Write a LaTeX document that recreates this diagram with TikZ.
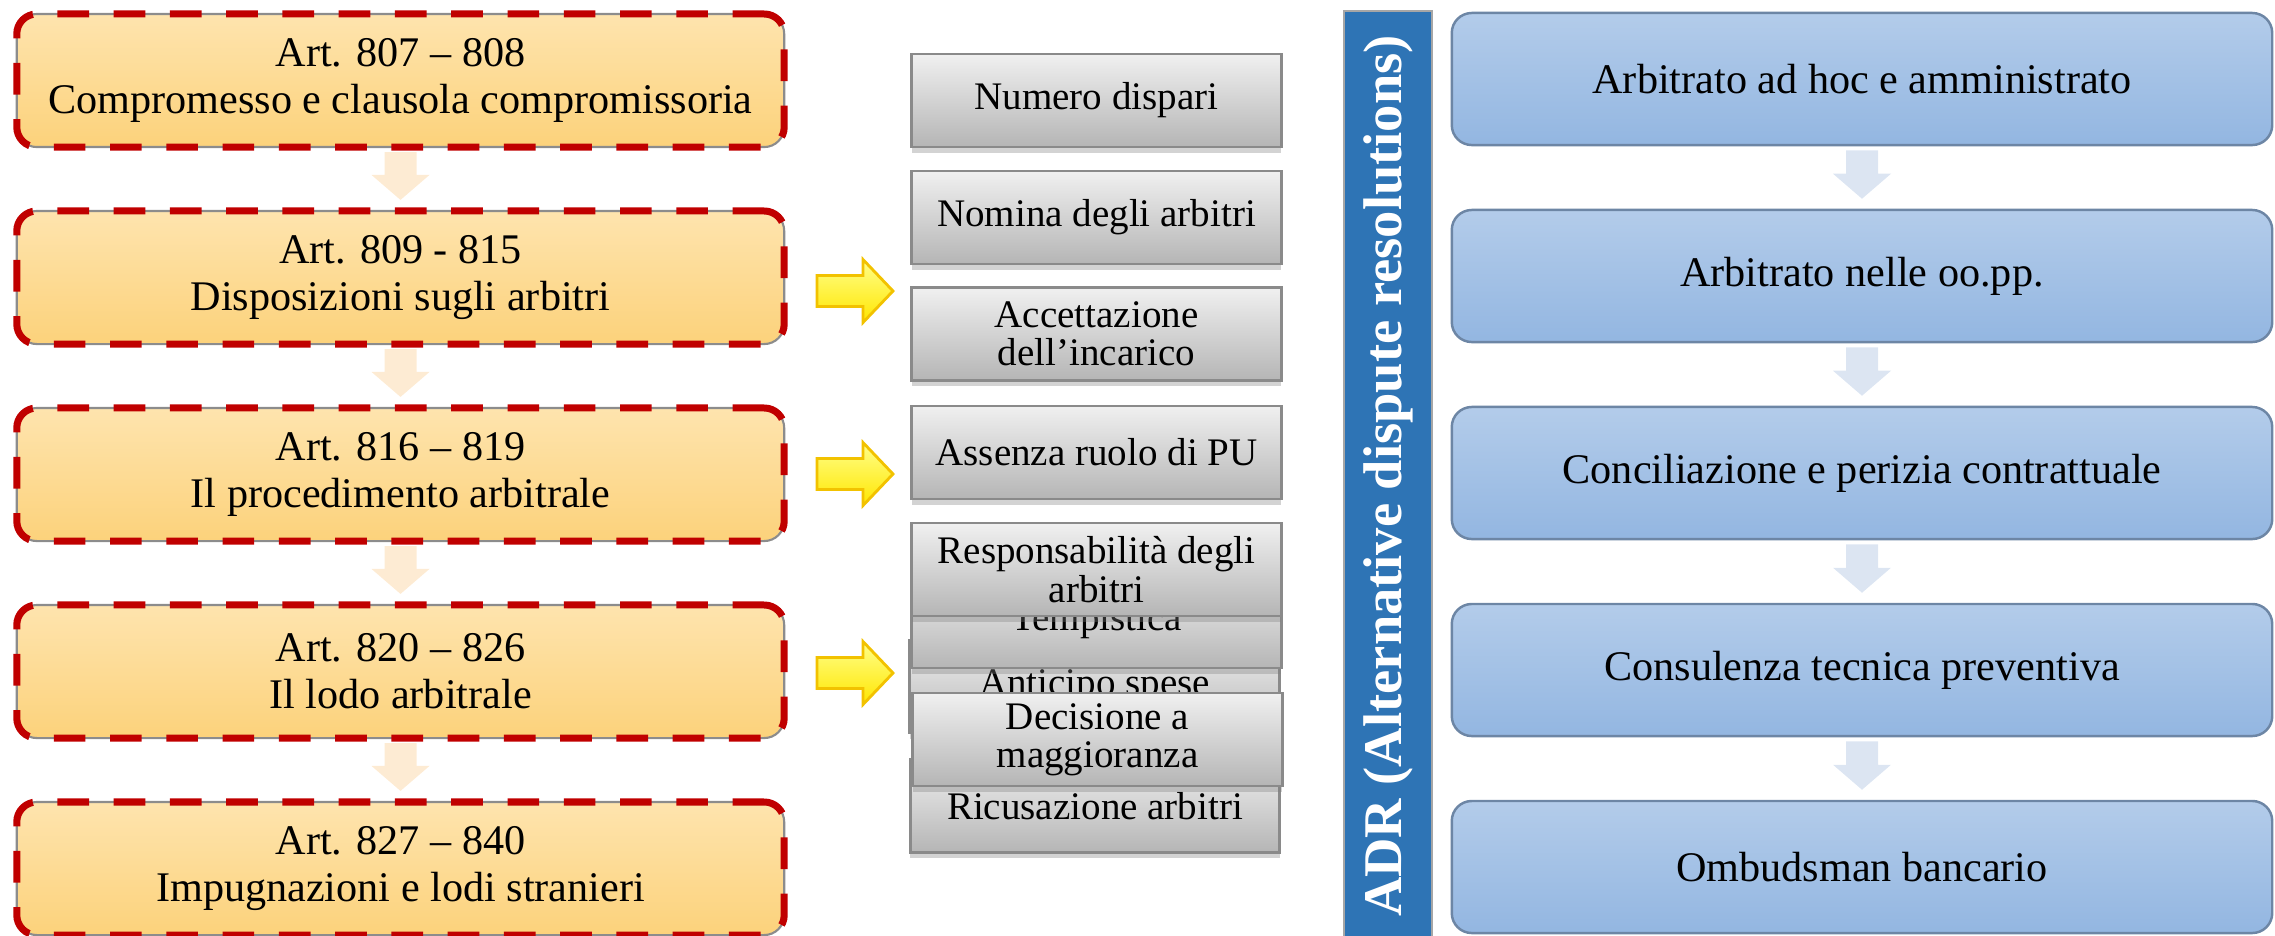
\documentclass[tikz,border=0pt]{standalone}
\usepackage{fontspec}
\setmainfont{Liberation Serif}
\usetikzlibrary{calc,shadows}
\definecolor{dashred}{HTML}{C00000}
\definecolor{arttop}{HTML}{FEE4AE}
\definecolor{artbot}{HTML}{FCD27B}
\definecolor{artborder}{HTML}{8C8C8C}
\definecolor{midtop}{HTML}{F0F0F0}
\definecolor{midmid}{HTML}{DDDDDD}
\definecolor{midbot}{HTML}{B5B5B5}
\definecolor{midborder}{HTML}{8A8A8A}
\definecolor{rtop}{HTML}{B3CCEA}
\definecolor{rbot}{HTML}{93B6E1}
\definecolor{rborder}{HTML}{6D86A5}
\definecolor{adrblue}{HTML}{2E74B5}
\definecolor{ytop}{HTML}{FFFF8A}
\definecolor{ybot}{HTML}{FFE600}
\definecolor{yborder}{HTML}{F2C200}
\definecolor{peach}{HTML}{FDEBD3}
\definecolor{lblue}{HTML}{DCE5F2}
\newcommand\flowarrow[3]{%
  \fill[#3] ($(#1.south)+(-16,4)$) -- ($(#2.north)+(-16,-35)$) -- ($(#2.north)+(-29,-35)$)
    -- ($(#2.north)+(0,-10)$) -- ($(#2.north)+(29,-35)$) -- ($(#2.north)+(16,-35)$)
    -- ($(#1.south)+(16,4)$) -- cycle;}
\newcommand\yelarrow[1]{%
  \path[yarrow] ($(#1)+(-38,-15.5)$) -- ($(#1)+(8,-15.5)$) -- ($(#1)+(8,-31.5)$)
    -- ($(#1)+(38,0)$) -- ($(#1)+(8,31.5)$) -- ($(#1)+(8,15.5)$)
    -- ($(#1)+(-38,15.5)$) -- cycle;}
\begin{document}
\begin{tikzpicture}[x=0.01cm,y=-0.01cm,
  artbox/.style={rectangle, rounded corners=0.2cm, draw=artborder, line width=0.6pt,
    top color=arttop, bottom color=artbot, minimum width=7.67cm, minimum height=1.33cm,
    inner sep=0pt, align=center, font=\fontsize{12}{13.4}\selectfont,
    postaction={draw=dashred, line width=2pt, dash pattern=on 9pt off 7pt}},
  midbox/.style={rectangle, draw=midborder, line width=0.8pt,
    top color=midtop, middle color=midmid, bottom color=midbot,
    minimum width=3.69cm, minimum height=0.93cm, inner sep=0pt, align=center,
    font=\fontsize{11.1}{10.9}\selectfont,
    drop shadow={opacity=0.35, shadow xshift=0pt, shadow yshift=-1.6pt}},
  rbox/.style={rectangle, rounded corners=0.2cm, draw=rborder, line width=0.7pt,
    top color=rtop, bottom color=rbot, minimum width=8.2cm, minimum height=1.32cm,
    inner sep=0pt, align=center, font=\fontsize{12}{13.4}\selectfont},
  adrbar/.style={rectangle, draw=gray!70, line width=0.5pt, fill=adrblue,
    minimum width=9.29cm, minimum height=0.88cm, inner sep=0pt,
    text=white, font=\fontsize{15.5}{16}\selectfont\bfseries},
  yarrow/.style={draw=yborder, line width=0.8pt, top color=ytop, bottom color=ybot}
]
\useasboundingbox (0,0) rectangle (2275,935);

% left column
\node[artbox] (L1) at (400.5,80.5) {Art. 807 -- 808\\Compromesso e clausola compromissoria};
\node[artbox] (L2) at (400.5,277.5) {Art. 809 - 815\\Disposizioni sugli arbitri};
\node[artbox] (L3) at (400.5,474.5) {Art. 816 -- 819\\Il procedimento arbitrale};
\node[artbox] (L4) at (400.5,671.5) {Art. 820 -- 826\\Il lodo arbitrale};
\node[artbox] (L5) at (400.5,868.5) {Art. 827 -- 840\\Impugnazioni e lodi stranieri};
\flowarrow{L1}{L2}{peach}
\flowarrow{L2}{L3}{peach}
\flowarrow{L3}{L4}{peach}
\flowarrow{L4}{L5}{peach}

% yellow arrows
\coordinate (ya1) at (855,291);
\coordinate (ya2) at (855,474);
\coordinate (ya3) at (855,673);
\yelarrow{ya1}
\yelarrow{ya2}
\yelarrow{ya3}

% middle column
\node[midbox] (m1) at (1096.5,100.5) {Numero dispari};
\node[midbox] (m2) at (1096.5,217.5) {Nomina degli arbitri};
\node[midbox] (m3) at (1096.5,334) {Accettazione\\dell’incarico};
\node[midbox] (m4) at (1096.5,452.5) {Assenza ruolo di PU};
\node[midbox] (m9) at (1095,806) {Ricusazione arbitri};
\node[midbox] (m7) at (1094.5,686.5) {Anticipo spese};
\node[midbox] (m6) at (1096.5,621.5) {Tempistica};
\node[midbox] (m5) at (1096.5,569.5) {Responsabilità degli\\arbitri};
\node[midbox] (m8) at (1097.5,739.5) {Decisione a\\maggioranza};

% ADR bar
\node[adrbar, rotate=90] (adr) at (1388,476) {ADR (Alternative dispute resolutions)};

% right column
\node[rbox] (R1) at (1862,79) {Arbitrato ad hoc e amministrato};
\node[rbox] (R2) at (1862,276) {Arbitrato nelle oo.pp.};
\node[rbox] (R3) at (1862,473) {Conciliazione e perizia contrattuale};
\node[rbox] (R4) at (1862,670) {Consulenza tecnica preventiva};
\node[rbox] (R5) at (1862,867) {Ombudsman bancario};
\flowarrow{R1}{R2}{lblue}
\flowarrow{R2}{R3}{lblue}
\flowarrow{R3}{R4}{lblue}
\flowarrow{R4}{R5}{lblue}
\end{tikzpicture}
\end{document}
